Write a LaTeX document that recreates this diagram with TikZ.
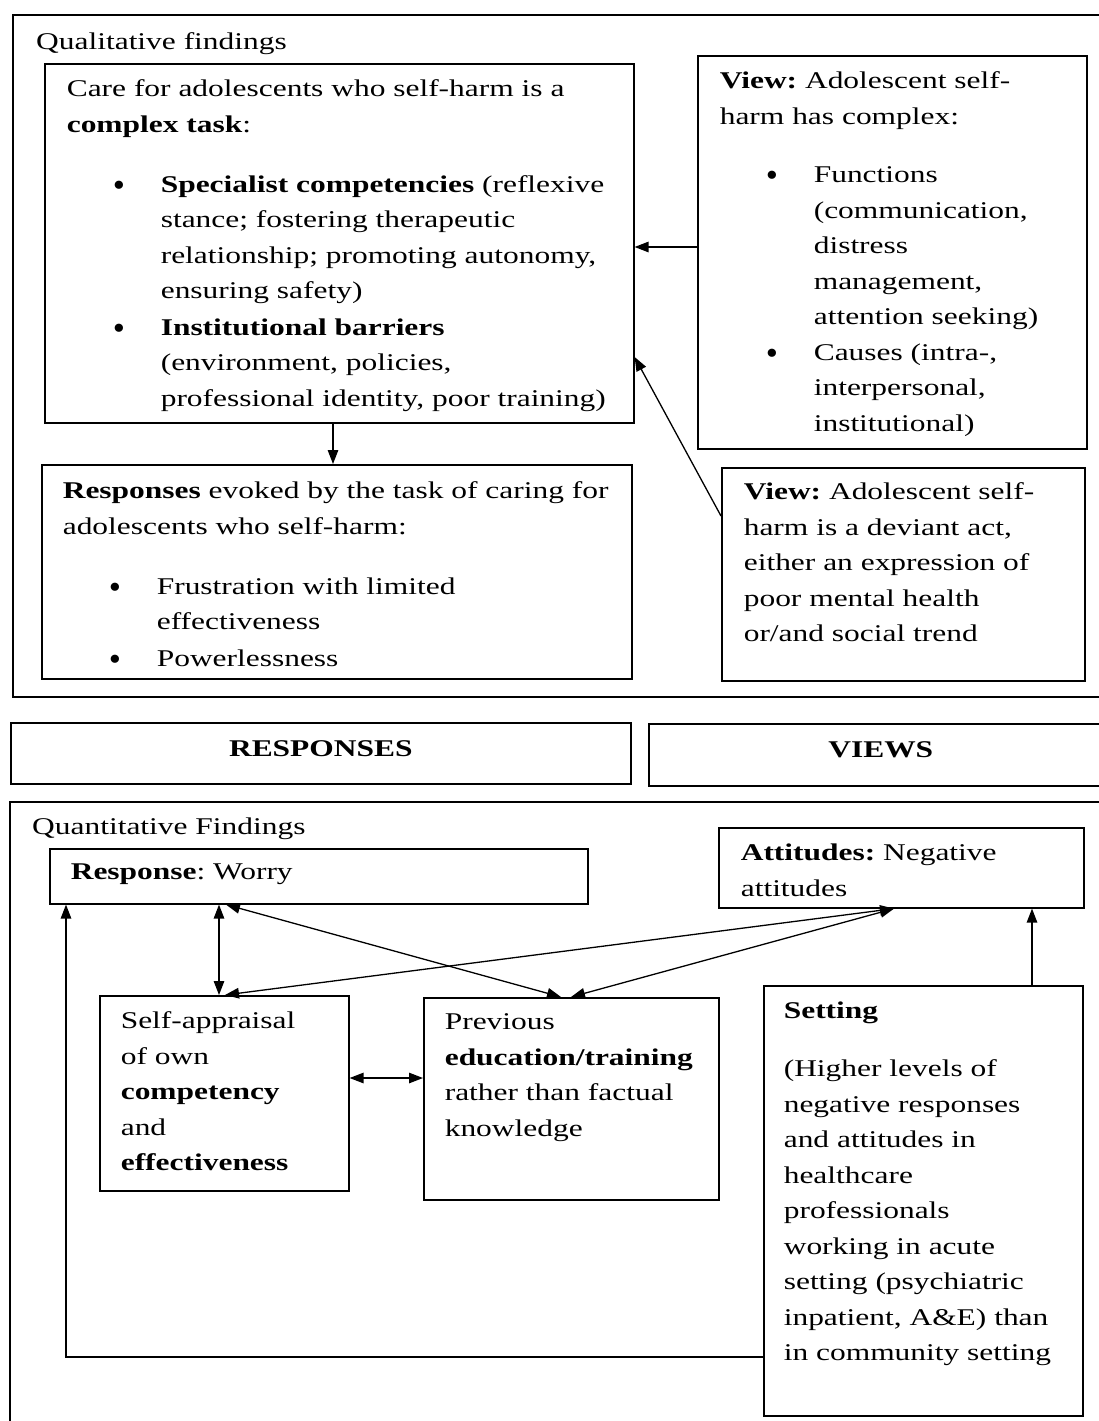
\documentclass[tikz,border=0pt]{standalone}
\usepackage{fontspec}
\setmainfont{Liberation Serif}[FakeStretch=1.31]
\usetikzlibrary{arrows.meta,calc}
\frenchspacing
\newcommand\bdot{\raisebox{-4pt}{\scalebox{0.78}[1]{\fontsize{34}{34}\selectfont\textbullet}}}
\newcommand\bi[1]{\hspace*{46pt}\makebox[48pt][l]{\bdot}#1}
\newcommand\ci[1]{\hspace*{94pt}#1}
\newcommand\tbox[8]{\node[boxst,inner xsep=#6pt] (#1) at (#2,#3) {\parbox[c][#5pt][t]{\dimexpr#4pt-#6pt-#6pt\relax}{\raggedright\frenchspacing\vspace*{#7pt}\strut#8}};}
\tikzset{
  txt/.style={font=\fontsize{24}{35.5}\selectfont},
  btxt/.style={font=\fontsize{24}{35.5}\selectfont\bfseries},
  boxst/.style={draw, line width=1.6pt, anchor=north west, inner ysep=0pt, txt},
  frame/.style={draw, line width=1.8pt},
  >={Triangle[length=14pt,width=10.5pt]},
  arr/.style={->, line width=1.3pt},
  darr/.style={<->, line width=1.3pt}
}
\begin{document}
\begin{tikzpicture}[x=1pt,y=-1pt]
\useasboundingbox (0,0) rectangle (1099,1421);
\fill[white] (0,0) rectangle (1099,1421);
\clip (0,0) rectangle (1099,1421);
% outer frames
\draw[frame] (13,15) rectangle (1130,697);
\draw[frame] (10,802) rectangle (1130,1450);
\node[txt, anchor=base west, inner sep=0pt] (qual) at (36,49) {Qualitative findings};
\node[txt, anchor=base west, inner sep=0pt] (quant) at (32,834) {Quantitative Findings};
% qualitative boxes
\tbox{A}{44}{63}{589}{359}{22}{8}{Care for adolescents who self-harm is a\\
\textbf{complex task}:\\[24.5pt]
\bi{\textbf{Specialist competencies} (reflexive}\\
\ci{stance; fostering therapeutic}\\
\ci{relationship; promoting autonomy,}\\
\ci{ensuring safety)}\\[1pt]
\bi{\textbf{Institutional barriers}}\\
\ci{(environment, policies,}\\
\ci{professional identity, poor training)}}
\tbox{B}{697}{55}{389}{393}{22}{8}{\textbf{View:} Adolescent self-\\
harm has complex:\\[23pt]
\bi{Functions}\\
\ci{(communication,}\\
\ci{distress}\\
\ci{management,}\\
\ci{attention seeking)}\\
\bi{Causes (intra-,}\\
\ci{interpersonal,}\\
\ci{institutional)}}
\tbox{C}{41}{464}{590}{214}{21}{9}{\textbf{Responses} evoked by the task of caring for\\
adolescents who self-harm:\\[24.5pt]
\bi{Frustration with limited}\\
\ci{effectiveness}\\[1pt]
\bi{Powerlessness}}
\tbox{D}{721}{467}{363}{213}{22}{7}{\textbf{View:} Adolescent self-\\
harm is a deviant act,\\
either an expression of\\
poor mental health\\
or/and social trend}
% middle bands
\node[draw, line width=1.6pt, anchor=north west, minimum width=620pt, minimum height=61pt, inner sep=0pt, btxt] (resp) at (10,722) {RESPONSES\rule[-10pt]{0pt}{1pt}};
\node[draw, line width=1.6pt, anchor=north west, minimum width=464pt, minimum height=62pt, inner sep=0pt, btxt] (views) at (648,723) {VIEWS\rule[-10pt]{0pt}{1pt}};
% quantitative boxes
\tbox{W}{49}{848}{538}{55}{21}{6}{\textbf{Response}: Worry}
\tbox{T}{718}{827}{365}{80}{22}{8}{\textbf{Attitudes:} Negative\\
attitudes}
\tbox{S}{99}{995}{249}{195}{21}{8}{Self-appraisal\\
of own\\
\textbf{competency}\\
and\\
\textbf{effectiveness}}
\tbox{P}{423}{997}{295}{202}{21}{7}{Previous\\
\textbf{education/training}\\
rather than factual\\
knowledge}
\tbox{G}{763}{985}{319}{430}{20}{8}{\textbf{Setting}\\[22.5pt]
(Higher levels of\\
negative responses\\
and attitudes in\\
healthcare\\
professionals\\
working in acute\\
setting (psychiatric\\
inpatient, A\&E) than\\
in community setting}
% connectors, qualitative
\coordinate (b1) at ($(B.north west)+(0,192)$);
\draw[arr] (b1) -- (b1 -| A.east);
\coordinate (a1) at ($(A.south west)+(289,0)$);
\draw[arr] (a1) -- (a1 |- C.north);
\coordinate (d1) at ($(D.north west)+(0,49)$);
\coordinate (a2) at ($(A.north east)+(0,294)$);
\draw[arr] (d1) -- (a2);
% connectors, quantitative
\coordinate (w1) at ($(W.south west)+(170,0)$);
\draw[darr] (w1) -- (w1 |- S.north);
\draw[darr] ($(W.south west)+(177,0)$) -- ($(P.north west)+(138,0)$);
\draw[darr] ($(T.south west)+(176,0)$) -- ($(S.north west)+(126,0)$);
\draw[darr] ($(T.south west)+(176,0)$) -- ($(P.north west)+(148,0)$);
\coordinate (s1) at ($(S.north east)+(0,83)$);
\draw[darr] (s1) -- (s1 -| P.west);
\coordinate (g1) at ($(G.north west)+(269,0)$);
\draw[arr] (g1) -- (g1 |- T.south);
\coordinate (g2) at ($(G.north west)+(0,372)$);
\coordinate (w2) at ($(W.south west)+(17,0)$);
\draw[arr] (g2) -| (w2);
\end{tikzpicture}
\end{document}
